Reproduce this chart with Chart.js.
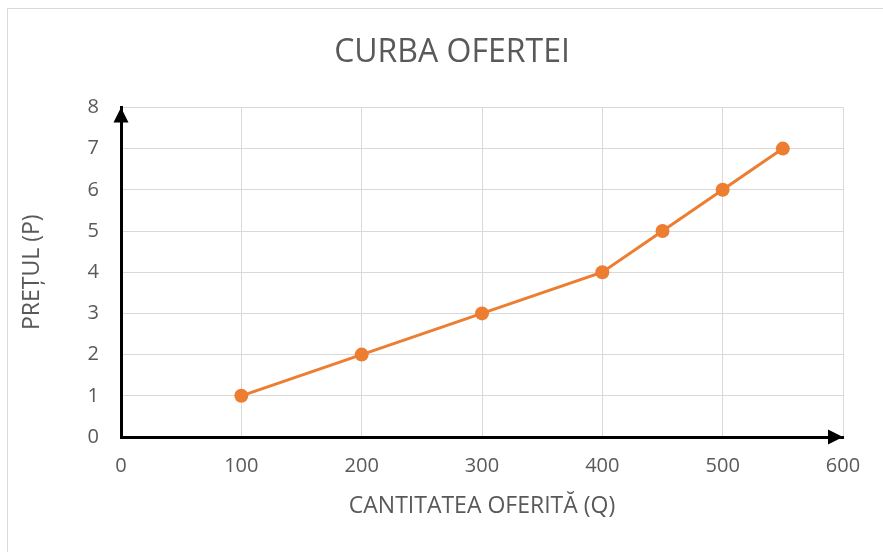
<!DOCTYPE html>
<html>
<head>
<meta charset="utf-8">
<script src="https://cdn.jsdelivr.net/npm/chart.js@4/dist/chart.umd.min.js"></script>
<style>
  html, body { margin: 0; padding: 0; background: #fff; overflow: hidden; }
  #wrap { position: relative; width: 883px; height: 552px; overflow: hidden; }
</style>
</head>
<body>
<div id="wrap"><canvas id="myChart" width="904" height="552"></canvas></div>
<script>
const cantitate = [100, 200, 300, 400, 450, 500, 550];
const pret = [1, 2, 3, 4, 5, 6, 7];
const xTicks = [0, 100, 200, 300, 400, 500, 600];
const yTicks = [0, 1, 2, 3, 4, 5, 6, 7, 8];

const textColor = '#595959';
const gridColor = '#d9d9d9';
const orange = '#ED7D31';

// frame + arrow heads on the two axes
const decor = {
    id: 'decor',
    beforeDraw(chart) {
        const c = chart.ctx;
        c.save();
        c.strokeStyle = gridColor;
        c.lineWidth = 1;
        c.strokeRect(7.5, 8.5, 1000, 1000);
        c.restore();
    },
    afterDatasetsDraw(chart) {
        const c = chart.ctx;
        const x = chart.scales.x, y = chart.scales.y;
        const x0 = x.getPixelForValue(0), x1 = x.getPixelForValue(600);
        const y0 = y.getPixelForValue(0), y1 = y.getPixelForValue(8);
        c.save();
        c.fillStyle = '#000';
        c.beginPath();
        c.moveTo(x0, y1);
        c.lineTo(x0 - 7.5, y1 + 15);
        c.lineTo(x0 + 7.5, y1 + 15);
        c.closePath();
        c.fill();
        c.beginPath();
        c.moveTo(x1, y0);
        c.lineTo(x1 - 15, y0 - 7.5);
        c.lineTo(x1 - 15, y0 + 7.5);
        c.closePath();
        c.fill();
        c.restore();
    }
};

const ctx = document.getElementById('myChart').getContext('2d');
const chart = new Chart(ctx, {
    type: 'scatter',
    data: {
        datasets: [{
            label: 'Oferta',
            data: cantitate.map((q, i) => ({ x: q, y: pret[i] })),
            showLine: true,
            borderColor: orange,
            backgroundColor: orange,
            borderWidth: 3,
            pointRadius: 7,
            pointHoverRadius: 7,
            pointBorderWidth: 0
        }]
    },
    options: {
        responsive: false,
        animation: false,
        layout: { padding: 0 },
        plugins: {
            legend: { display: false },
            tooltip: { enabled: false },
            title: {
                display: true,
                text: 'CURBA OFERTEI',
                color: textColor,
                font: { family: 'Open Sans', size: 32, weight: 'normal' },
                padding: { top: 34, bottom: 35 }
            }
        },
        scales: {
            x: {
                type: 'linear',
                min: 0,
                max: 600,
                afterBuildTicks: s => { s.ticks = xTicks.map(v => ({ value: v })); },
                afterFit: s => { s.height = 115; },
                grid: { color: gridColor, lineWidth: 1, drawTicks: false },
                border: { display: true, color: '#000', width: 3 },
                ticks: {
                    color: textColor,
                    padding: 17,
                    font: { family: 'Open Sans', size: 20 }
                },
                title: {
                    display: true,
                    text: 'CANTITATEA OFERITĂ (Q)',
                    color: textColor,
                    font: { family: 'Open Sans', size: 23 },
                    padding: { top: 8, bottom: 32 }
                }
            },
            y: {
                min: 0,
                max: 8,
                afterBuildTicks: s => { s.ticks = yTicks.map(v => ({ value: v })); },
                afterFit: s => { s.width = 121; },
                grid: { color: gridColor, lineWidth: 1, drawTicks: false },
                border: { display: true, color: '#000', width: 3 },
                ticks: {
                    color: textColor,
                    padding: 22,
                    font: { family: 'Open Sans', size: 20 }
                },
                title: {
                    display: true,
                    text: 'PREȚUL (P)',
                    color: textColor,
                    font: { family: 'Open Sans', size: 23 },
                    padding: { top: 19, bottom: 10 }
                }
            },
            // empty right-hand axis, only reserves room so the plot ends at Q=600 where the original does
            spacer: {
                type: 'linear',
                position: 'right',
                display: true,
                afterFit: s => { s.width = 61; },
                grid: { display: false, drawTicks: false },
                border: { display: false },
                ticks: { display: false }
            }
        }
    },
    plugins: [decor]
});
</script>
</body>
</html>
